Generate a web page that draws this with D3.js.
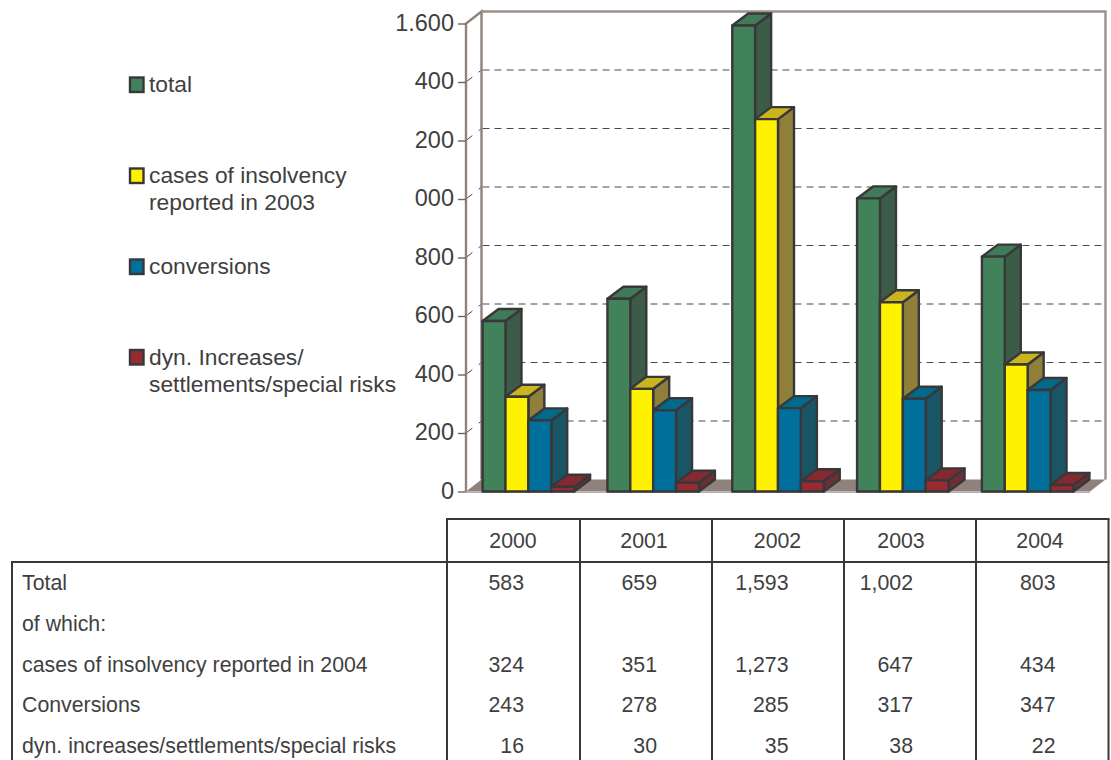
<!DOCTYPE html>
<html>
<head>
<meta charset="utf-8">
<script src="https://cdn.jsdelivr.net/npm/d3@7/dist/d3.min.js"></script>
<style>
  html, body { margin: 0; padding: 0; background: #fff; }
  svg { display: block; }
  text { font-family: "Liberation Sans", Arial, sans-serif; fill: #3f3f41; }
</style>
</head>
<body>
<svg id="chart" width="1111" height="760"></svg>
<script>
// Annual figures, one list per series
const years = ["2000", "2001", "2002", "2003", "2004"];
const total = [583, 659, 1593, 1002, 803];
const insolvency = [324, 351, 1273, 647, 434];
const conversions = [243, 278, 285, 317, 347];
const dynIncreases = [16, 30, 35, 38, 22];

// Axis tick values and their printed labels
const tickValues = [0, 200, 400, 600, 800, 1000, 1200, 1400, 1600];
const tickLabels = ["0", "200", "400", "600", "800", "000", "200", "400", "1.600"];

// Legend entries, wrapped over one or two lines
const legendLines = [
  ["total"],
  ["cases of insolvency", "reported in 2003"],
  ["conversions"],
  ["dyn. Increases/", "settlements/special risks"]
];

// Table row headings and cell strings
const rowHeadings = ["Total", "of which:", "cases of insolvency reported in 2004", "Conversions", "dyn. increases/settlements/special risks"];
const totalCells = ["583", "659", "1,593", "1,002", "803"];
const insolvencyCells = ["324", "351", "1,273", "647", "434"];
const conversionCells = ["243", "278", "285", "317", "347"];
const dynCells = ["16", "30", "35", "38", "22"];

// Front, side and top shades for each series
const frontColors = ["#41825a", "#fff200", "#006f9b", "#972b31"];
const sideColors = ["#3d5c48", "#8f7f3a", "#1a5566", "#6e2f34"];
const topColors = ["#417a58", "#cbb51f", "#006a8a", "#84292f"];

const seriesValues = [total, insolvency, conversions, dynIncreases];

const svg = d3.select("#chart");
const ink = "#38383a";
const wallColor = "#8f817c";

// Plot frame: the front plane and the offset of the rear wall
const frontLeft = 466, frontRight = 1090;
const depthX = 15.5, depthY = 12;
const barDepthX = 16, barDepthY = 12;

const y = d3.scaleLinear().domain([0, 1600]).range([491.5, 23.5]);
const x0 = d3.scaleBand().domain(years).range([frontLeft, frontRight]).paddingInner(0.267).paddingOuter(0.133);
const x1 = d3.scaleBand().domain(d3.range(4)).range([0, x0.bandwidth()]);

const plot = svg.append("g");

// Floor of the plot
const floorY = y(0);
plot.append("path")
  .attr("d", d3.line()([[frontLeft, floorY], [frontLeft + depthX, floorY - depthY], [frontRight + depthX, floorY - depthY], [frontRight, floorY]]) + "Z")
  .attr("fill", wallColor);
plot.append("line")
  .attr("x1", frontLeft).attr("x2", frontRight).attr("y1", floorY + 0.8).attr("y2", floorY + 0.8)
  .attr("stroke", "#b5b0ae").attr("stroke-width", 1.4);

// Dashed grid on the rear wall, with its short diagonal on the side wall
const gridTicks = tickValues.slice(1, -1);
plot.selectAll("line.grid").data(gridTicks).join("line")
  .attr("class", "grid")
  .attr("x1", frontLeft + depthX + 1).attr("x2", frontRight + depthX)
  .attr("y1", d => y(d) - depthY).attr("y2", d => y(d) - depthY)
  .attr("stroke", "#4a4a4a").attr("stroke-width", 1).attr("stroke-dasharray", "7 5");
plot.selectAll("line.gridSide").data(gridTicks).join("line")
  .attr("class", "gridSide")
  .attr("x1", frontLeft).attr("x2", frontLeft + depthX)
  .attr("y1", d => y(d)).attr("y2", d => y(d) - depthY)
  .attr("stroke", "#4a4a4a").attr("stroke-width", 1).attr("stroke-dasharray", "8 8 4 0");

// Walls and top edges
const wallPath = d3.line()([
  [frontLeft, y(0)], [frontLeft, y(1600)], [frontLeft + depthX, y(1600) - depthY],
  [frontLeft + depthX, y(0) - depthY]
]);
plot.append("path").attr("d", wallPath).attr("fill", "none").attr("stroke", wallColor).attr("stroke-width", 2.4);
plot.append("path")
  .attr("d", d3.line()([[frontLeft + depthX, y(1600) - depthY], [frontRight + depthX, y(1600) - depthY], [frontRight + depthX, y(0) - depthY]]))
  .attr("fill", "none").attr("stroke", "#9c908b").attr("stroke-width", 2.4);

// Value axis
const axis = d3.axisLeft(y)
  .tickValues(tickValues)
  .tickSize(8)
  .tickPadding(4)
  .tickFormat((d, i) => tickLabels[i]);
const axisG = svg.append("g").attr("transform", `translate(${frontLeft},0)`).call(axis);
axisG.select(".domain").remove();
axisG.selectAll("line").attr("stroke", "#6e6462").attr("stroke-width", 1.4);
axisG.selectAll("text").attr("font-size", 23.5).attr("dy", "0.29em").style("fill", "#3f3f41").attr("font-family", "Liberation Sans");

// 3D bars: groups run left to right so each bar overlaps its neighbour's side
const cells = years.flatMap((yr, i) => seriesValues.map((vals, s) => ({ yr, s, v: vals[i] })));
const bars = svg.append("g").selectAll("g").data(cells).join("g")
  .attr("stroke", ink).attr("stroke-width", 2.4).attr("stroke-linejoin", "round");

const barX = d => x0(d.yr) + x1(d.s);
const poly = pts => d3.line()(pts) + "Z";

bars.append("path").attr("fill", d => sideColors[d.s])
  .attr("d", d => {
    const r = barX(d) + x1.bandwidth();
    return poly([[r, y(d.v)], [r + barDepthX, y(d.v) - barDepthY], [r + barDepthX, y(0) - barDepthY], [r, y(0)]]);
  });
bars.append("path").attr("fill", d => topColors[d.s])
  .attr("d", d => {
    const l = barX(d), r = l + x1.bandwidth();
    return poly([[l, y(d.v)], [l + barDepthX, y(d.v) - barDepthY], [r + barDepthX, y(d.v) - barDepthY], [r, y(d.v)]]);
  });
bars.append("rect").attr("fill", d => frontColors[d.s])
  .attr("x", barX).attr("width", x1.bandwidth())
  .attr("y", d => y(d.v)).attr("height", d => y(0) - y(d.v));

// Legend
const legendSwatchTop = [77.5, 168.5, 259.5, 350];
const legendFirstBaseline = [92, 183, 274, 365];
const legend = svg.append("g").selectAll("g").data(legendLines).join("g");
legend.append("rect")
  .attr("x", 130).attr("width", 13.5).attr("height", 14.5)
  .attr("y", (d, i) => legendSwatchTop[i])
  .attr("fill", (d, i) => frontColors[i])
  .attr("stroke", ink).attr("stroke-width", 2.4);
legend.each(function (lines, i) {
  d3.select(this).selectAll("text").data(lines).join("text")
    .attr("x", 149)
    .attr("y", (d, j) => legendFirstBaseline[i] + j * 26.5)
    .attr("font-size", 22.8)
    .text(d => d);
});

// Table rules
const tableCols = [447, 580, 712, 844, 976, 1108.5];
const tableTop = 519, tableHead = 562, tableBottom = 760;
const rules = svg.append("g").attr("stroke", ink).attr("stroke-width", 2);
rules.append("line").attr("x1", 446).attr("x2", 1109.5).attr("y1", tableTop).attr("y2", tableTop);
rules.append("line").attr("x1", 11).attr("x2", 1109.5).attr("y1", tableHead).attr("y2", tableHead);
rules.append("line").attr("x1", 12).attr("x2", 12).attr("y1", tableHead - 1).attr("y2", tableBottom);
rules.selectAll("line.col").data(tableCols).join("line")
  .attr("class", "col")
  .attr("x1", d => d).attr("x2", d => d).attr("y1", tableTop).attr("y2", tableBottom);

// Table text
const headerCentres = [513, 644, 777.5, 901, 1040];
const cellRight = [524, 657, 788.5, 913, 1055.5];
const rowBaselines = [590, 631, 672, 712, 753];
const fontTable = 21.3;

svg.append("g").selectAll("text").data(years).join("text")
  .attr("x", (d, i) => headerCentres[i]).attr("y", 548)
  .attr("text-anchor", "middle").attr("font-size", fontTable).text(d => d);

svg.append("g").selectAll("text").data(rowHeadings).join("text")
  .attr("x", 22).attr("y", (d, i) => rowBaselines[i])
  .attr("font-size", fontTable).text(d => d);

const tableRows = [[totalCells, 0], [insolvencyCells, 2], [conversionCells, 3], [dynCells, 4]];
tableRows.forEach(([cellsRow, r]) => {
  svg.append("g").selectAll("text").data(cellsRow).join("text")
    .attr("x", (d, i) => cellRight[i]).attr("y", rowBaselines[r])
    .attr("text-anchor", "end").attr("font-size", fontTable).text(d => d);
});
</script>
</body>
</html>
